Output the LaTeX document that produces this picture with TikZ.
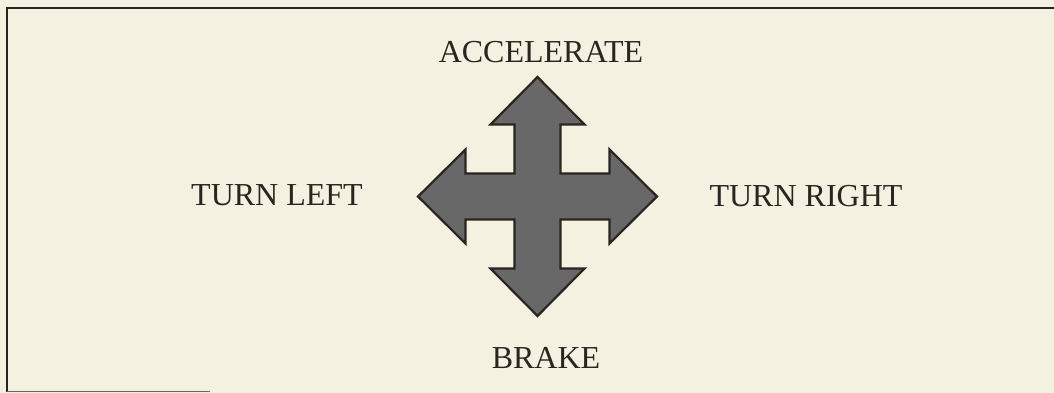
\documentclass[tikz,border=0pt]{standalone}
\usepackage{fontspec}
\setmainfont{Liberation Serif}
\usetikzlibrary{calc}
\definecolor{paper}{HTML}{F4F1E1}
\definecolor{ink}{HTML}{2A2520}
\definecolor{arrowfill}{HTML}{686868}
\tikzset{
  label/.style={anchor=base, text=ink, inner sep=0pt, font=\fontsize{32}{38}\selectfont},
  frame/.style={draw=ink, line width=2pt},
  cross/.style={draw=ink, line width=2.2pt, fill=arrowfill, line join=miter}
}
\newcommand\armw{23}
\newcommand\headw{47}
\newcommand\headb{72}
\newcommand\tipd{119.5}
\begin{document}
\begin{tikzpicture}[x=1pt,y=-1pt]
\fill[paper] (0,0) rectangle (1054,393);
\useasboundingbox (0,0) rectangle (1054,393);
% frame
\draw[frame] (1054,8) -- (7,8) -- (7,392);
\draw[draw=ink!70, line width=1.5pt] (7,391.5) -- (210,391.5);
% four-way arrow
\coordinate (c) at (537.5,196.5);
\draw[cross] ($(c)+(0,-\tipd)$) -- ++(\headw,\tipd-\headb) -- ++(\armw-\headw,0) -- ++(0,\headb-\armw) -- ++(\headb-\armw,0) -- ++(0,\armw-\headw)
  -- ++(\tipd-\headb,\headw) -- ++(\headb-\tipd,\headw) -- ++(0,\armw-\headw) -- ++(\armw-\headb,0) -- ++(0,\headb-\armw) -- ++(\headw-\armw,0)
  -- ++(-\headw,\tipd-\headb) -- ++(-\headw,\headb-\tipd) -- ++(\headw-\armw,0) -- ++(0,\armw-\headb) -- ++(\armw-\headb,0) -- ++(0,\headw-\armw)
  -- ++(\headb-\tipd,-\headw) -- ++(\tipd-\headb,-\headw) -- ++(0,\headw-\armw) -- ++(\headb-\armw,0) -- ++(0,\armw-\headb) -- ++(\armw-\headw,0) -- cycle;
% labels
\node[label] (acc) at (541,63) {ACCELERATE};
\node[label] (brk) at (546,368) {BRAKE};
\node[label] (tl) at (277,205) {TURN LEFT};
\node[label] (tr) at (806,206) {TURN RIGHT};
\end{tikzpicture}
\end{document}
